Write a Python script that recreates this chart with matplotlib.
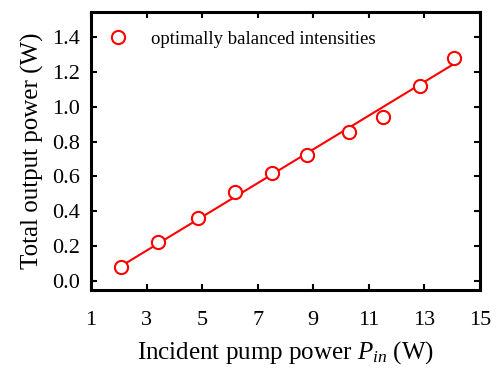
import matplotlib
matplotlib.use("Agg")
import matplotlib.pyplot as plt

pump_power = [2.08, 3.41, 4.85, 6.18, 7.51, 8.77, 10.28, 11.5, 12.83, 14.06]
output_power = [0.08, 0.224, 0.361, 0.51, 0.62, 0.723, 0.855, 0.94, 1.12, 1.28]
fit_x = [2.08, 14.06]
fit_y = [0.085, 1.245]
x_ticks = [1, 3, 5, 7, 9, 11, 13, 15]
y_ticks = [0.0, 0.2, 0.4, 0.6, 0.8, 1.0, 1.2, 1.4]

plt.rcParams['font.family'] = ['Liberation Serif', 'DejaVu Serif']
plt.rcParams['mathtext.fontset'] = 'custom'
plt.rcParams['mathtext.it'] = 'Liberation Serif:italic'
plt.rcParams['mathtext.rm'] = 'Liberation Serif'

fig = plt.figure(figsize=(4.97, 3.68), dpi=100)
ax = fig.add_axes([91/497, 1-290/368, (480-91)/497, (290-12)/368])

ax.plot(fit_x, fit_y, color='#ff0000', lw=1.5, zorder=2)
ax.plot(pump_power, output_power, 'o', ms=9.5, mfc='white', mec='#ff0000', mew=1.5,
        zorder=3, label='optimally balanced intensities')

ax.set_xlim(1, 15)
ax.set_ylim(-0.052, 1.543)
ax.set_xticks(x_ticks)
ax.set_xticklabels([str(t) for t in x_ticks])
ax.set_yticks(y_ticks)
ax.set_yticklabels([f"{t:.1f}" for t in y_ticks])
ax.tick_params(direction='in', length=4.5, width=1.5, top=True, right=True,
               labelsize=16, pad=8)
ax.tick_params(axis='x', labeltop=False, pad=15)
for s in ax.spines.values():
    s.set_linewidth(2.2)

ax.set_xlabel(r'Incident pump power $P_{in}$ (W)', fontsize=18, labelpad=7)
ax.set_ylabel('Total output power (W)', fontsize=18, labelpad=6)

ax.legend(loc='upper left', frameon=False, fontsize=13.5, handletextpad=1.1,
          borderaxespad=0.0, handlelength=1.3, bbox_to_anchor=(0.02, 0.96))

fig.savefig('out.png', dpi=100)
